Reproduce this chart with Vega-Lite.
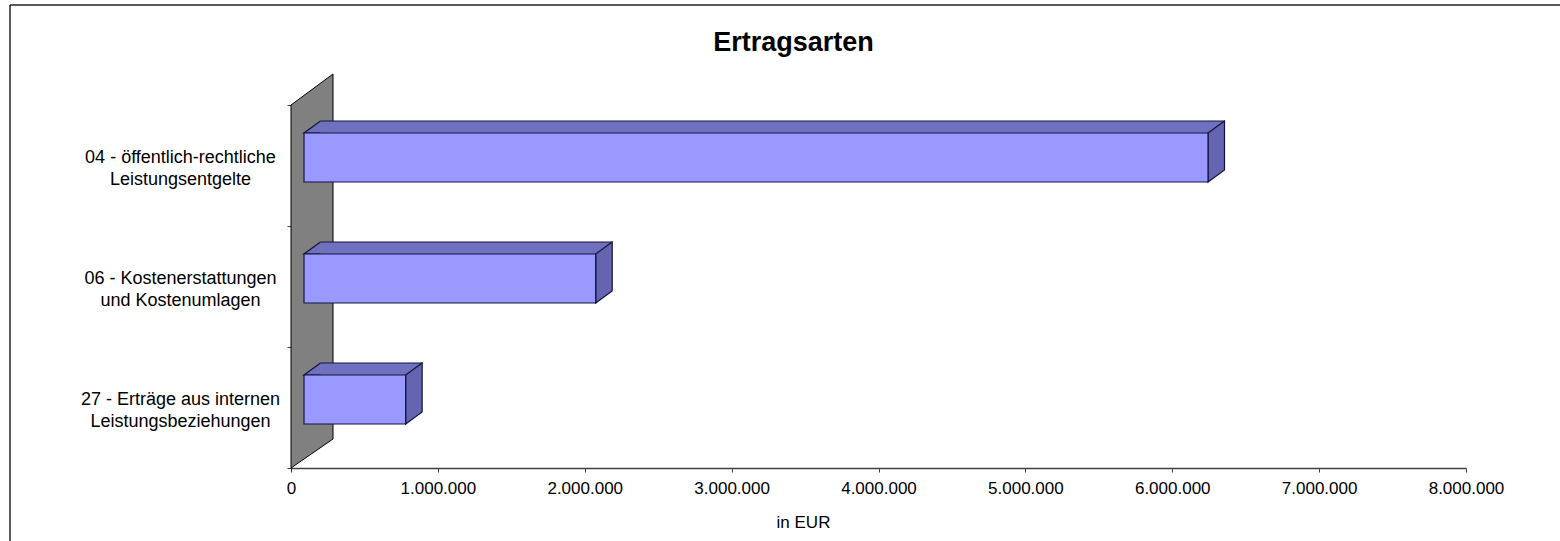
{
  "$schema": "https://vega.github.io/schema/vega-lite/v6.json",
  "width": 1175,
  "height": 363,
  "autosize": {"type": "none"},
  "padding": {"left": 291, "top": 105, "right": 94, "bottom": 73},
  "background": "white",
  "config": {
    "view": {"stroke": null},
    "font": "Liberation Sans",
    "axis": {"grid": false}
  },
  "title": {
    "text": "Ertragsarten",
    "font": "Liberation Sans",
    "fontSize": 27,
    "fontWeight": "bold",
    "color": "black",
    "anchor": "middle",
    "frame": "group",
    "baseline": "alphabetic",
    "offset": 0,
    "dy": 74,
    "dx": -85
  },
  "data": {
    "values": [
      {"cat": "04 - öffentlich-rechtliche|Leistungsentgelte", "value": 6155000},
      {"cat": "06 - Kostenerstattungen|und Kostenumlagen", "value": 1986000},
      {"cat": "27 - Erträge aus internen|Leistungsbeziehungen", "value": 692000}
    ]
  },
  "layer": [
    {
      "transform": [{"filter": "datum.value > 6000000"}],
      "mark": {"type": "rule", "color": "#222222", "strokeWidth": 1.5, "xOffset": -281, "x2Offset": 150, "yOffset": -160.5},
      "encoding": {
        "x": {"datum": 0, "type": "quantitative"},
        "x2": {"datum": 8000000},
        "y": {"field": "cat", "type": "nominal", "sort": null}
      }
    },
    {
      "transform": [{"filter": "datum.value > 6000000"}],
      "mark": {"type": "rule", "color": "#222222", "strokeWidth": 1.5, "xOffset": -281, "yOffset": -160.5, "y2Offset": 450},
      "encoding": {
        "x": {"datum": 0, "type": "quantitative"},
        "y": {"field": "cat", "type": "nominal", "sort": null},
        "y2": {"field": "cat"}
      }
    },
    {
      "transform": [{"filter": "datum.value > 6000000"}],
      "mark": {
        "type": "point",
        "shape": "M0,0 L1,-0.738 L1,7.952 L0,8.643 Z",
        "size": 7056,
        "filled": true,
        "opacity": 1,
        "fill": "#808080",
        "stroke": "#000000",
        "strokeWidth": 1,
        "yOffset": -60.5
      },
      "encoding": {
        "x": {"datum": 0, "type": "quantitative"},
        "y": {"field": "cat", "type": "nominal", "sort": null}
      }
    },
    {
      "mark": {"type": "bar", "height": 12, "yOffset": -38.5, "xOffset": 29.5, "x2Offset": 29.5, "fill": "#7070C0", "strokeWidth": 0},
      "encoding": {
        "x": {"field": "value", "type": "quantitative"},
        "y": {"field": "cat", "type": "nominal", "sort": null}
      }
    },
    {
      "mark": {
        "type": "point",
        "shape": "M1,0 L0,0 L1,-0.727",
        "size": 1089,
        "filled": true,
        "opacity": 1,
        "fill": "#7070C0",
        "stroke": "#14143C",
        "strokeWidth": 1.2,
        "xOffset": 13,
        "yOffset": -32.5
      },
      "encoding": {
        "x": {"datum": 0, "type": "quantitative"},
        "y": {"field": "cat", "type": "nominal", "sort": null}
      }
    },
    {
      "mark": {"type": "rule", "color": "#14143C", "strokeWidth": 1.2, "xOffset": 29.5, "x2Offset": 29.5, "yOffset": -44.5},
      "encoding": {
        "x": {"field": "value", "type": "quantitative"},
        "x2": {"datum": 0},
        "y": {"field": "cat", "type": "nominal", "sort": null}
      }
    },
    {
      "mark": {
        "type": "point",
        "shape": "M0,0 L1,-0.727 L1,2.242 L0,2.970 Z",
        "size": 1089,
        "filled": true,
        "opacity": 1,
        "fill": "#6464B0",
        "stroke": "#14143C",
        "strokeWidth": 1.2,
        "xOffset": 13,
        "yOffset": -32.5
      },
      "encoding": {
        "x": {"field": "value", "type": "quantitative"},
        "y": {"field": "cat", "type": "nominal", "sort": null}
      }
    },
    {
      "mark": {"type": "bar", "height": 49, "yOffset": -8, "xOffset": 13, "x2Offset": 13, "fill": "#9999FF", "stroke": "#14143C", "strokeWidth": 1.2},
      "encoding": {
        "x": {
          "field": "value",
          "type": "quantitative",
          "title": "in EUR",
          "scale": {"domain": [0, 8000000], "nice": false, "zero": true},
          "axis": {
            "values": [0, 1000000, 2000000, 3000000, 4000000, 5000000, 6000000, 7000000, 8000000],
            "labelExpr": "replace(format(datum.value, ','), regexp(',', 'g'), '.')",
            "labelFont": "Liberation Sans",
            "labelFontSize": 17,
            "labelColor": "#000000",
            "labelPadding": 8,
            "labelFlush": false,
            "domainColor": "#404040",
            "domainWidth": 1.5,
            "tickColor": "#404040",
            "tickSize": 4,
            "tickWidth": 1,
            "titleFont": "Liberation Sans",
            "titleFontSize": 17,
            "titleFontWeight": "normal",
            "titleColor": "#000000",
            "titlePadding": 18,
            "titleX": 512
          }
        },
        "y": {
          "field": "cat",
          "type": "nominal",
          "sort": null,
          "title": null,
          "scale": {"paddingInner": 0, "paddingOuter": 0},
          "axis": {
            "labelExpr": "split(datum.label, '|')",
            "labelFont": "Liberation Sans",
            "labelFontSize": 18,
            "labelColor": "#000000",
            "labelAlign": "center",
            "labelBaseline": "middle",
            "labelLineHeight": 22,
            "labelPadding": 107,
            "labelOffset": -8,
            "labelLimit": 400,
            "domainColor": "#000000",
            "domainWidth": 1,
            "tickBand": "extent",
            "tickColor": "#404040",
            "tickSize": 4,
            "tickWidth": 1
          }
        }
      }
    }
  ]
}
